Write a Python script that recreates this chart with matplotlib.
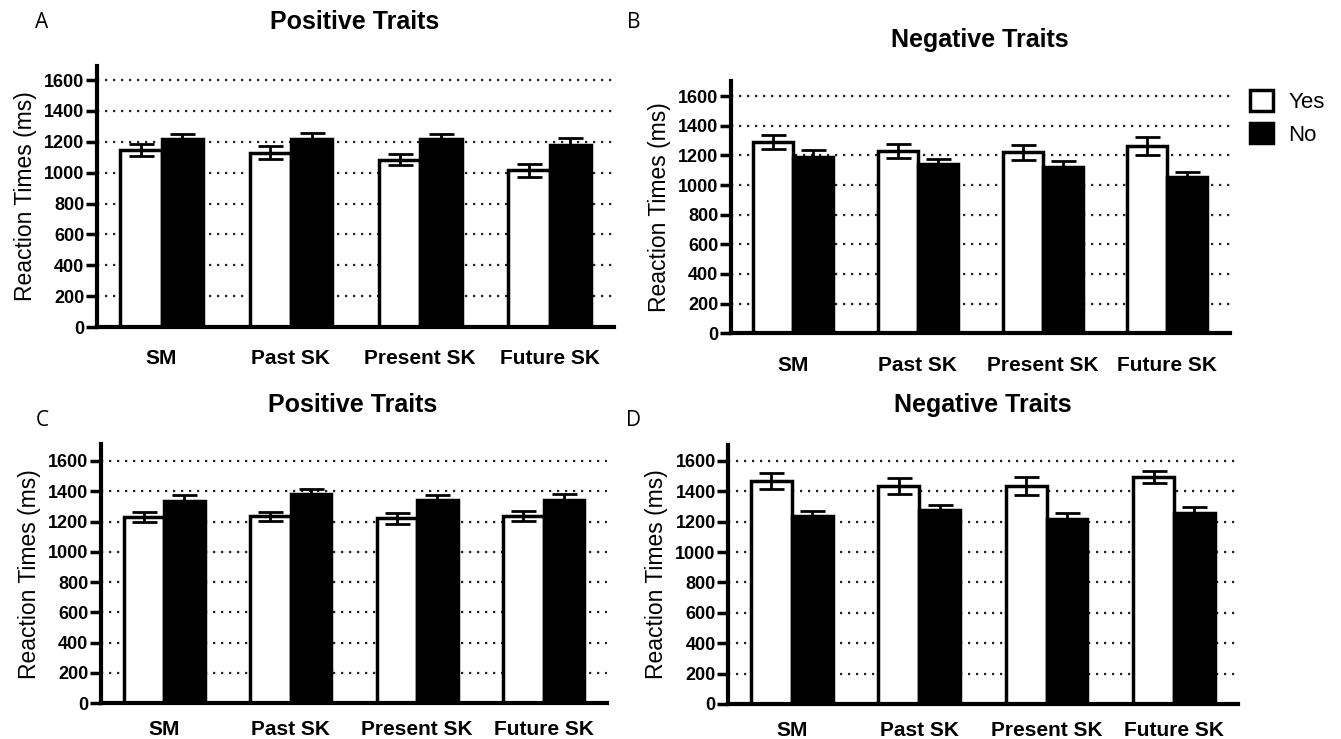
import matplotlib
matplotlib.use("Agg")
from matplotlib import pyplot as plt
from matplotlib.patches import Patch

categories = ["SM", "Past SK", "Present SK", "Future SK"]

# panel A - positive traits
a_yes = [1145, 1130, 1085, 1015]
a_yes_err = [40, 40, 37, 40]
a_no = [1215, 1215, 1215, 1180]
a_no_err = [35, 45, 35, 45]

# panel B - negative traits
b_yes = [1290, 1230, 1220, 1265]
b_yes_err = [50, 45, 50, 60]
b_no = [1190, 1140, 1125, 1055]
b_no_err = [45, 37, 35, 32]

# panel C - positive traits
c_yes = [1230, 1235, 1220, 1235]
c_yes_err = [33, 30, 35, 33]
c_no = [1335, 1380, 1340, 1340]
c_no_err = [38, 32, 38, 42]

# panel D - negative traits
d_yes = [1470, 1435, 1435, 1495]
d_yes_err = [52, 55, 60, 42]
d_no = [1240, 1275, 1215, 1260]
d_no_err = [33, 33, 40, 38]

yticks = [0, 200, 400, 600, 800, 1000, 1200, 1400, 1600]

bold_font = ["Liberation Sans", "DejaVu Sans"]
plain = ["Liberation Sans", "DejaVu Sans"]
letter_font = ["Open Sans", "DejaVu Sans"]

fig = plt.figure(figsize=(13.41, 7.39), dpi=100)


def draw_panel(rect, yes, yes_err, no, no_err, ymax, xpad):
    ax = fig.add_axes(rect)
    x = list(range(len(categories)))
    w = 0.32
    for v in yticks[1:]:
        ax.axhline(v, color="#222222", linestyle=(0, (1, 2.6)), linewidth=1.6, zorder=0)
    xy = [i - w / 2 for i in x]
    xn = [i + w / 2 for i in x]
    ax.bar(xy, yes, width=w, color="white", edgecolor="black", linewidth=2.5, zorder=2)
    ax.bar(xn, no, width=w, color="black", edgecolor="black", linewidth=2.5, zorder=2)
    ax.errorbar(xy, yes, yerr=yes_err, fmt="none", ecolor="black", elinewidth=2,
                capsize=9, capthick=2, zorder=3)
    ax.errorbar(xn, no, yerr=no_err, fmt="none", ecolor="black", elinewidth=2,
                capsize=9, capthick=2, zorder=3)
    ax.set_xlim(-0.5, 3.5)
    ax.set_ylim(0, ymax)
    ax.set_yticks(yticks)
    ax.set_yticklabels([str(t) for t in yticks], family=bold_font, fontweight="bold", fontsize=13)
    ax.set_xticks(x)
    ax.set_xticklabels(categories, family=bold_font, fontweight="bold", fontsize=15)
    ax.tick_params(axis="y", direction="out", length=8, width=2.5, pad=1)
    ax.tick_params(axis="x", length=0, pad=xpad)
    for s in ["top", "right"]:
        ax.spines[s].set_visible(False)
    for s in ["left", "bottom"]:
        ax.spines[s].set_linewidth(3)
    ax.set_ylabel("Reaction Times (ms)", family=plain, fontsize=16.5, labelpad=5)
    return ax


ax_a = draw_panel([0.0723, 0.5575, 0.3857, 0.353], a_yes, a_yes_err, a_no, a_no_err, 1690, 16)
ax_b = draw_panel([0.545, 0.549, 0.372, 0.341], b_yes, b_yes_err, b_no, b_no_err, 1700, 16)
ax_c = draw_panel([0.0753, 0.0487, 0.3773, 0.350], c_yes, c_yes_err, c_no, c_no_err, 1710, 12)
ax_d = draw_panel([0.543, 0.0474, 0.380, 0.351], d_yes, d_yes_err, d_no, d_no_err, 1708, 12)

titles = ["Positive Traits", "Negative Traits", "Positive Traits", "Negative Traits"]
title_pos = [(355, 22), (980, 40), (353, 405), (983, 405)]
for t, (px, py) in zip(titles, title_pos):
    fig.text(px / 1341, 1 - py / 739, t, family=bold_font, fontweight="bold", fontsize=18,
             ha="center", va="center")

letter_pos = [(42, 22), (634, 22), (42, 420), (634, 420)]
for lab, (px, py) in zip(["A", "B", "C", "D"], letter_pos):
    fig.text(px / 1341, 1 - py / 739, lab, family=letter_font, fontsize=15,
             ha="center", va="center")

handles = [Patch(facecolor="white", edgecolor="black", linewidth=2.5, label="Yes"),
           Patch(facecolor="black", edgecolor="black", linewidth=2.5, label="No")]
ax_b.legend(handles=handles, loc="upper left", bbox_to_anchor=(1.0, 1.045), frameon=False,
            prop={"family": plain, "size": 16}, handlelength=1.05, handleheight=1.05,
            handletextpad=0.7, labelspacing=0.45)

fig.savefig("out.png", dpi=100)
